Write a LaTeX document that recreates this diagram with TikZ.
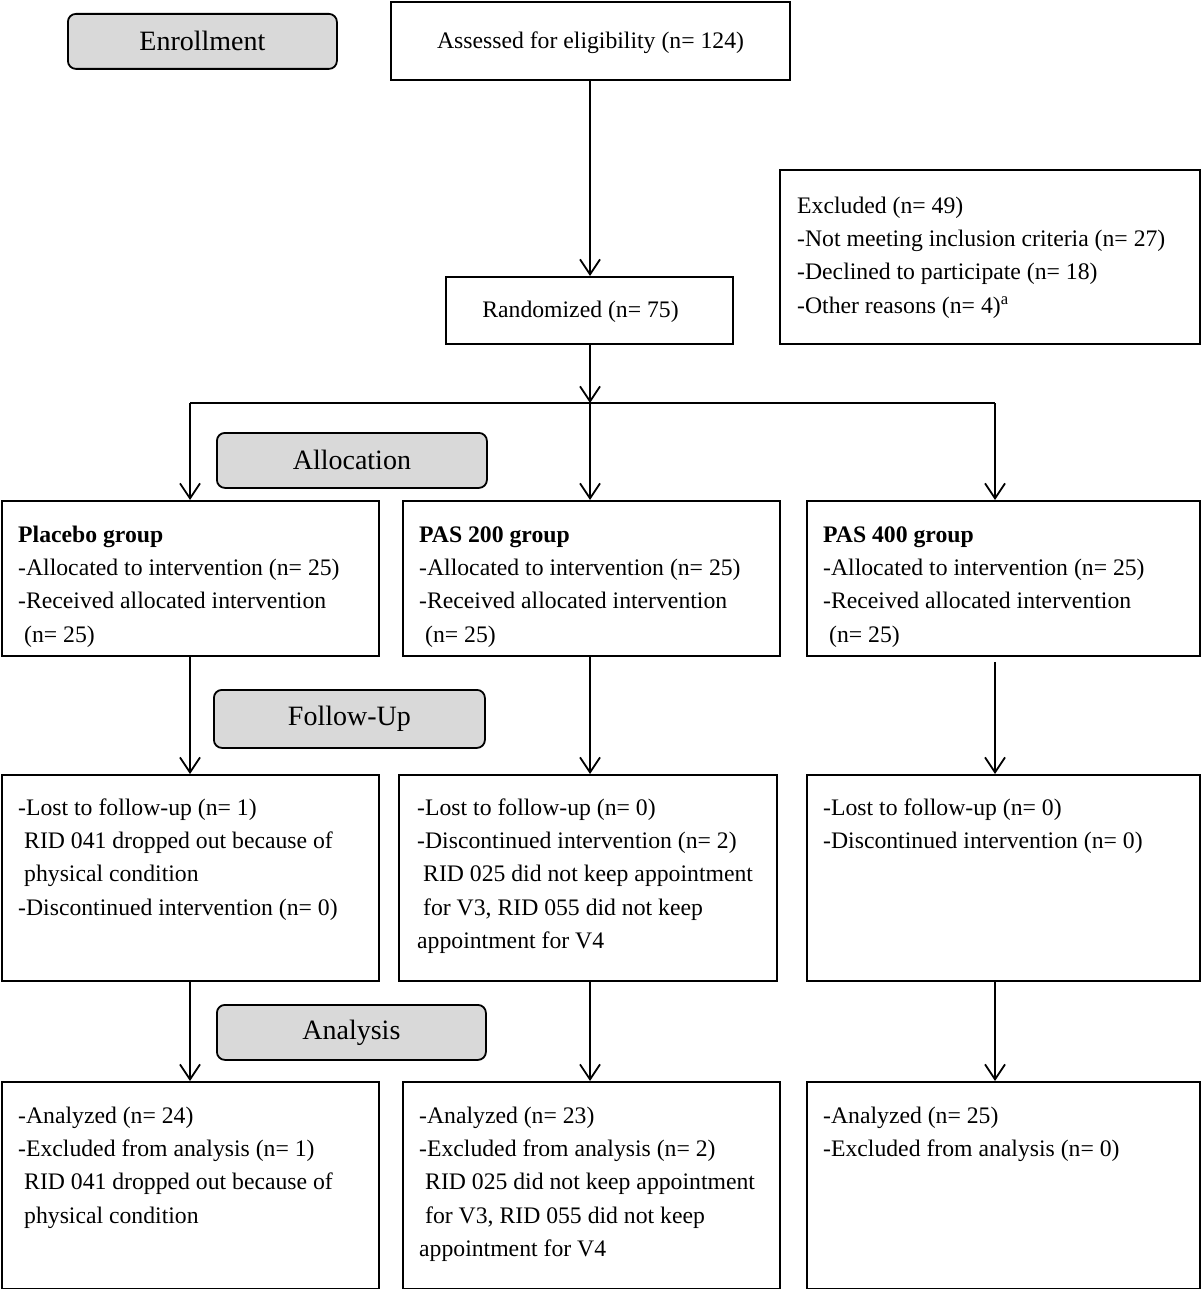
\documentclass[tikz,border=0pt]{standalone}
\usepackage{fontspec}
\setmainfont{Liberation Serif}
\usetikzlibrary{arrows.meta}
\definecolor{stagegray}{HTML}{D9D9D9}
\begin{document}
\begin{tikzpicture}[x=1pt,y=-1pt,
  box/.style={draw, line width=1.8pt, inner sep=0pt, anchor=north west},
  stage/.style={draw, line width=1.8pt, rounded corners=8pt, fill=stagegray, inner sep=0pt, anchor=north west, font=\fontsize{28}{33}\selectfont},
  txt/.style={inner sep=0pt, anchor=north west, align=left, font=\fontsize{23.7}{33.3}\selectfont},
  ctxt/.style={inner sep=0pt, anchor=base, font=\fontsize{23.7}{33.3}\selectfont},
  arr/.style={line width=1.8pt, -{Straight Barb[length=15pt,width=20pt]}},
  plain/.style={line width=1.8pt}]
\useasboundingbox (0,0) rectangle (1200,1289);
\newcommand{\ind}{\hspace*{6pt}}
% top area
\node[stage, minimum width=269pt, minimum height=55pt] (enroll) at (67,13) {Enrollment};
\node[box, minimum width=399pt, minimum height=78pt] (assess) at (390,1) {};
\node[ctxt] (assesst) at (590.5,49) {Assessed for eligibility (n= 124)};
\node[box, minimum width=420pt, minimum height=174pt] (excl) at (779,169) {};
\node[txt] (exclt) at ([xshift=18pt,yshift=-20.7pt]excl.north west) {\strut Excluded (n= 49)\\-Not meeting inclusion criteria (n= 27)\\-Declined to participate (n= 18)\\-Other reasons (n= 4)\textsuperscript{a}};
\node[box, minimum width=287pt, minimum height=67pt] (rand) at (445,276) {};
\node[ctxt] (randt) at (580.5,317) {Randomized (n= 75)};
% stage labels
\node[stage, minimum width=270pt, minimum height=55pt] (alloc) at (216,432) {Allocation};
\node[stage, minimum width=271pt, minimum height=58pt] (follow) at (213,689) {Follow-Up};
\node[stage, minimum width=269pt, minimum height=55pt] (anal) at (216,1004) {Analysis};
% row 1
\node[box, minimum width=377pt, minimum height=155pt] (p1a) at (1,500) {};
\node[box, minimum width=377pt, minimum height=155pt] (p2a) at (402,500) {};
\node[box, minimum width=393pt, minimum height=155pt] (p3a) at (806,500) {};
\node[txt] (p1at) at ([xshift=17pt,yshift=-18.7pt]p1a.north west) {\strut\textbf{Placebo group}\\-Allocated to intervention (n= 25)\\-Received allocated intervention\\\ind(n= 25)};
\node[txt] (p2at) at ([xshift=17pt,yshift=-18.7pt]p2a.north west) {\strut\textbf{PAS 200 group}\\-Allocated to intervention (n= 25)\\-Received allocated intervention\\\ind(n= 25)};
\node[txt] (p3at) at ([xshift=17pt,yshift=-18.7pt]p3a.north west) {\strut\textbf{PAS 400 group}\\-Allocated to intervention (n= 25)\\-Received allocated intervention\\\ind(n= 25)};
% row 2
\node[box, minimum width=377pt, minimum height=206pt] (p1b) at (1,774) {};
\node[box, minimum width=378pt, minimum height=206pt] (p2b) at (398,774) {};
\node[box, minimum width=393pt, minimum height=206pt] (p3b) at (806,774) {};
\node[txt] (p1bt) at ([xshift=17pt,yshift=-17.7pt]p1b.north west) {\strut -Lost to follow-up (n= 1)\\\ind RID 041 dropped out because of\\\ind physical condition\\-Discontinued intervention (n= 0)};
\node[txt] (p2bt) at ([xshift=19pt,yshift=-17.7pt]p2b.north west) {\strut -Lost to follow-up (n= 0)\\-Discontinued intervention (n= 2)\\\ind RID 025 did not keep appointment\\\ind for V3, RID 055 did not keep\\appointment for V4};
\node[txt] (p3bt) at ([xshift=17pt,yshift=-17.7pt]p3b.north west) {\strut -Lost to follow-up (n= 0)\\-Discontinued intervention (n= 0)};
% row 3
\node[box, minimum width=377pt, minimum height=207pt] (p1c) at (1,1081) {};
\node[box, minimum width=377pt, minimum height=207pt] (p2c) at (402,1081) {};
\node[box, minimum width=393pt, minimum height=207pt] (p3c) at (806,1081) {};
\node[txt] (p1ct) at ([xshift=17pt,yshift=-18.7pt]p1c.north west) {\strut -Analyzed (n= 24)\\-Excluded from analysis (n= 1)\\\ind RID 041 dropped out because of\\\ind physical condition};
\node[txt] (p2ct) at ([xshift=17pt,yshift=-18.7pt]p2c.north west) {\strut -Analyzed (n= 23)\\-Excluded from analysis (n= 2)\\\ind RID 025 did not keep appointment\\\ind for V3, RID 055 did not keep\\appointment for V4};
\node[txt] (p3ct) at ([xshift=17pt,yshift=-18.7pt]p3c.north west) {\strut -Analyzed (n= 25)\\-Excluded from analysis (n= 0)};
% connectors
\coordinate (c1) at (190,403);
\coordinate (c2) at (590,403);
\coordinate (c3) at (995,403);
\draw[arr] (assess.south -| c2) -- (rand.north -| c2);
\draw[arr] (rand.south -| c2) -- (c2);
\draw[plain] (c1) -- (c3);
\draw[arr] (c1) -- (p1a.north -| c1);
\draw[arr] (c2) -- (p2a.north -| c2);
\draw[arr] (c3) -- (p3a.north -| c3);
\draw[arr] (p1a.south -| c1) -- (p1b.north -| c1);
\draw[arr] (p2a.south -| c2) -- (p2b.north -| c2);
\draw[arr] ([yshift=-5pt]p3a.south -| c3) -- (p3b.north -| c3);
\draw[arr] (p1b.south -| c1) -- (p1c.north -| c1);
\draw[arr] (p2b.south -| c2) -- (p2c.north -| c2);
\draw[arr] (p3b.south -| c3) -- (p3c.north -| c3);
\end{tikzpicture}
\end{document}
